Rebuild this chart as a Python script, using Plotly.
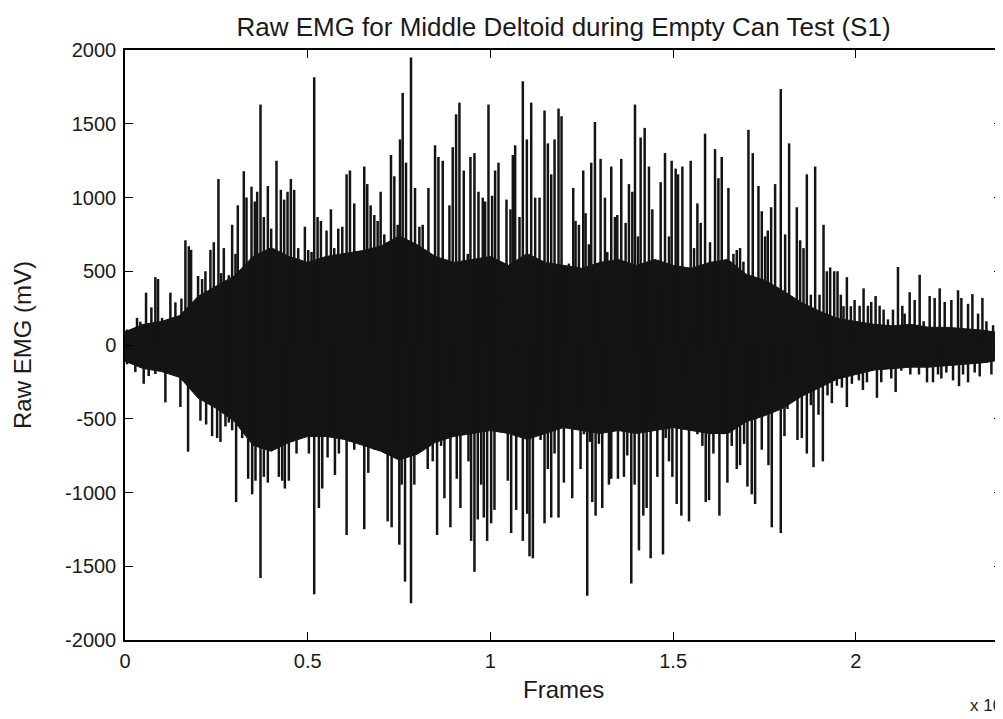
import plotly.graph_objects as go

# ---- data ----
# solid core of the signal (envelope), sampled every 500 frames
core_frames = [0, 500, 1000, 1500, 2000, 2500, 3000, 3500, 4000, 4500, 5000, 5500,
               6000, 6500, 7000, 7500, 8000, 8500, 9000, 9500, 10000, 10500, 11000, 11500,
               12000, 12500, 13000, 13500, 14000, 14500, 15000, 15500, 16000, 16500, 17000,
               17500, 18000, 18500, 19000, 19500, 20000, 20500, 21000, 21500, 22000, 22500,
               23000, 23500, 24000]
core_upper = [90, 140, 160, 200, 330, 400, 470, 600, 660, 600, 560, 600,
              620, 640, 670, 740, 680, 600, 560, 580, 600, 540, 620, 560,
              540, 520, 560, 580, 540, 580, 540, 520, 560, 580, 480,
              440, 370, 290, 230, 180, 160, 140, 130, 140, 120, 120,
              110, 100, 80]
core_lower = [-110, -160, -180, -220, -360, -430, -520, -680, -720, -660, -620, -620,
              -640, -680, -720, -780, -740, -660, -620, -600, -580, -600, -640, -600,
              -560, -580, -600, -580, -600, -580, -560, -580, -600, -600, -520,
              -480, -430, -350, -290, -230, -200, -170, -160, -150, -150, -140,
              -130, -120, -100]

# positive spikes (frame, mV)
pos_frames = [55, 329, 420, 576, 722, 831, 904, 1014, 1242, 1379, 1544, 1653, 1745, 1809, 1909,
              2000, 2110, 2201, 2338, 2430, 2557, 2630, 2704, 2841, 2932, 3023, 3087, 3251, 3325,
              3462, 3553, 3617, 3708, 3800, 3909, 4000,
              4146, 4265, 4356, 4448, 4539, 4630, 4740, 4813, 4923, 5014, 5105, 5178, 5270,
              5361, 5516, 5635, 5726, 5836, 5946, 6064, 6156, 6274, 6384, 6548, 6630, 6722, 6822,
              6914, 6996, 7096, 7188, 7279, 7370, 7462, 7526, 7599, 7690, 7827, 7937,
              8056, 8147, 8303, 8485, 8577, 8695, 8805, 8878, 8969, 9061, 9152, 9271, 9380,
              9453, 9563, 9673, 9791, 9855, 9947, 10047, 10129, 10221, 10321, 10440, 10549, 10613,
              10677, 10796, 10887, 10997, 11116, 11225, 11344, 11481, 11572, 11664, 11755, 11864,
              11946, 12056, 12147, 12266, 12330, 12421, 12540, 12604, 12695, 12759, 12860, 12942,
              13015, 13134, 13198, 13307, 13408, 13472, 13581, 13700, 13791, 13883, 13956, 14038,
              14111, 14221, 14339, 14431, 14522, 14659, 14778, 14887, 14960, 15070, 15134, 15253,
              15390, 15481, 15572, 15664, 15755, 15874,
              16010, 16147, 16239, 16330, 16421, 16513, 16650, 16741, 16832, 16924, 17061, 17179,
              17335, 17426, 17517, 17590, 17682, 17791, 17883, 17946, 18065, 18175, 18275, 18385,
              18476, 18568, 18659, 18769, 18887, 19006, 19116, 19207, 19298, 19408, 19499, 19590,
              19663, 19755, 19864,
              19966, 20103, 20212, 20331, 20422, 20541, 20651, 20760, 20879, 21016, 21153, 21272,
              21336, 21473, 21610, 21747, 21856, 22020, 22157, 22295, 22432, 22614, 22797, 22888,
              23071, 23190, 23345, 23464, 23573, 23756, 23875, 23984]
pos_values = [105, 184, 158, 355, 255, 460, 447, 184, 355, 289, 315, 710, 670, 645, 237,
              468, 447, 500, 645, 697, 1125, 487, 657, 473, 815, 618, 947, 1178, 1000,
              1073, 973, 1039, 1630, 868, 1078, 789,
              1249, 1052, 986, 1039, 1125, 1052, 657, 552, 802, 644, 631, 1815, 868,
              841, 776, 920, 657, 789, 802, 1157, 1183, 960, 539, 1210, 1091, 947, 881,
              841, 1039, 750, 697, 1288, 1144, 815, 1394, 1709, 1236, 1950, 1065,
              802, 815, 1065, 1354, 1275, 1249, 578, 947, 1341, 1564, 1643, 1183, 618,
              1275, 1301, 1039, 999, 973, 1630, 1012, 1183, 1236, 328, 986, 920, 1288,
              1354, 868, 1788, 1394, 1643, 999, 999, 1590, 1367, 1157, 1394, 1603,
              1551, 487, 552, 1065, 841, 815, 1183, 894, 683, 1236, 1512, 447,
              1262, 999, 631, 1210, 868, 881, 1262, 828, 1091, 1039, 1630, 736,
              1407, 1472, 1210, 920, 381, 1104, 1301, 736, 1249, 1196, 1157, 1210,
              131, 1249, 657, 960, 828, 1433,
              697, 1328, 1131, 1275, 447, 1065, 618, 644, 657, 565, 1459, 1301,
              1078, 907, 736, 776, 934, 1091, 341, 1735, 750, 1367, 237, 934,
              710, 657, 1157, 341, 1210, 341, 815, 500, 526, 500, 500, 341,
              263, 460, 263,
              305, 266, 384, 266, 292, 332, 266, 240, 174, 240, 529, 266,
              213, 358, 305, 476, 161, 332, 319, 384, 292, 305, 371, 319,
              279, 345, 213, 319, 161, 134, 398, 95]

# negative spikes (frame, mV)
neg_frames = [55, 283, 512, 649, 831, 1105, 1334, 1516, 1726, 1882, 2064, 2220, 2384, 2521, 2612,
              2749, 2841, 2932, 3041, 3206, 3370, 3480, 3571, 3708, 3800, 3909,
              3964, 4101, 4210, 4302, 4375, 4484, 4576, 4694, 4804, 4904, 5032, 5178, 5306, 5398,
              5544, 5653, 5745, 5854, 6000, 6064, 6156, 6274, 6384, 6548, 6658, 6822, 6978, 7096,
              7188, 7297, 7388, 7507, 7571, 7663, 7827, 7918,
              8010, 8147, 8284, 8421, 8540, 8650, 8741, 8832, 8905, 8997, 9079, 9179, 9289, 9399,
              9472, 9563, 9654, 9746, 9819, 9910, 10020, 10111, 10248, 10339, 10476, 10568, 10705,
              10824, 10887, 11006, 11070, 11162, 11253, 11372, 11481, 11572, 11664, 11755, 11864,
              12010, 12102, 12239, 12330, 12467, 12558, 12650, 12723, 12787, 12878, 12969, 13061,
              13152, 13243, 13307, 13399, 13490, 13581, 13654, 13746, 13855, 13946, 14065, 14184,
              14275, 14385, 14476, 14568, 14723, 14796, 14887, 14979, 15097, 15225, 15316, 15435,
              15572, 15664, 15801, 15892,
              15983, 16102, 16266, 16376, 16485, 16604, 16741, 16832, 16942, 17033, 17152, 17243,
              17335, 17426, 17517, 17609, 17700, 17837, 17946, 18047, 18129, 18202, 18312, 18403,
              18522, 18659, 18769, 18842, 18979, 19097, 19225, 19344, 19481, 19618, 19755, 19892,
              20084, 20194, 20304, 20422, 20578, 20696, 20833, 20970, 21089, 21244, 21381, 21491,
              21610, 21728, 21948, 22112, 22249, 22340, 22477, 22660, 22824, 22934, 23071, 23253,
              23390, 23573, 23710, 23865, 23984]
neg_values = [-131, -184, -263, -210, -197, -389, -184, -420, -723, -263, -513, -539, -618, -631, -657,
              -552, -526, -578, -1065, -631, -907, -1012, -920, -1580, -894, -933,
              -578, -500, -894, -920, -973, -920, -657, -736, -342, -421, -736, -1690, -1105, -973,
              -762, -578, -881, -736, -578, -1288, -657, -710, -210, -1249, -867, -710, -684, -408,
              -1196, -1236, -670, -1354, -947, -1604, -1750, -947,
              -657, -578, -841, -789, -1288, -684, -1039, -592, -1236, -237, -907, -1105, -250, -789,
              -1328, -1538, -1183, -947, -1170, -1328, -1209, -1118, -381, -513, -920, -1275, -1118,
              -329, -1328, -1144, -1433, -1446, -421, -644, -1209, -841, -1170, -736, -1170,
              -933, -184, -1039, -408, -841, -605, -1700, -657, -1065, -1157, -670, -1105,
              -434, -947, -907, -237, -907, -539, -894, -749, -1617, -947, -1393, -1157,
              -1105, -1446, -513, -894, -1420, -631, -789, -894, -1078, -1157, -210, -1196,
              -460, -605, -684, -1065,
              -1052, -736, -1157, -605, -933, -684, -841, -815, -670, -960, -1012, -1078,
              -368, -710, -447, -815, -1236, -289, -1275, -618, -434, -197, -329, -644,
              -631, -736, -408, -828, -473, -789, -342, -394, -276, -289, -421, -263,
              -240, -305, -253, -174, -358, -253, -122, -227, -319, -174, -148, -200,
              -95, -200, -253, -253, -200, -227, -187, -240, -279, -200, -253, -187,
              -213, -122, -200, -240, -148]

x_tick_vals = [0, 5000, 10000, 15000, 20000]
x_tick_text = ["0", "0.5", "1", "1.5", "2"]
y_tick_vals = [-2000, -1500, -1000, -500, 0, 500, 1000, 1500, 2000]
y_tick_text = ["-2000", "-1500", "-1000", "-500", "0", "500", "1000", "1500", "2000"]

INK = "#141414"
TXT = "#1a1a1a"
FONT = "Liberation Sans"
PAGE_OFFSET = 8  # default body margin of the html page

fig = go.Figure()

# solid core
fig.add_trace(go.Scatter(
    x=core_frames + core_frames[::-1],
    y=core_upper + core_lower[::-1],
    fill="toself", fillcolor=INK, mode="lines",
    line=dict(color=INK, width=1), hoverinfo="skip", showlegend=False))

# spikes
sx, sy = [], []
for f, v in zip(pos_frames + neg_frames, pos_values + neg_values):
    sx += [f, f, None]
    sy += [0, v, None]
fig.add_trace(go.Scatter(x=sx, y=sy, mode="lines",
                         line=dict(color=INK, width=2.5),
                         hoverinfo="skip", showlegend=False))

axis_common = dict(showgrid=False, zeroline=False, showline=True, linecolor="#000000",
                   linewidth=1.5, mirror="ticks", ticks="inside", ticklen=8,
                   tickcolor="#000000", tickwidth=1.3, automargin=False,
                   tickfont=dict(family=FONT, size=20, color=TXT))

fig.update_xaxes(range=[0, 24000], tickmode="array", tickvals=x_tick_vals,
                 ticktext=x_tick_text, ticklabelstandoff=2, **axis_common)
fig.update_yaxes(range=[-2000, 2000], tickmode="array", tickvals=y_tick_vals,
                 ticktext=y_tick_text, ticklabelstandoff=3, **axis_common)

W, H = 1003 - PAGE_OFFSET, 719 - PAGE_OFFSET
fig.update_layout(
    width=W, height=H,
    margin=dict(l=125 - PAGE_OFFSET, r=1, t=50 - PAGE_OFFSET, b=79, autoexpand=False),
    paper_bgcolor="white", plot_bgcolor="white",
    title=dict(text="Raw EMG for Middle Deltoid during Empty Can Test (S1)",
               x=0.5, xref="paper", xanchor="center",
               y=1 - (27 - PAGE_OFFSET) / H, yref="container", yanchor="middle",
               font=dict(family=FONT, size=26, color=TXT)),
    annotations=[
        dict(text="Frames", xref="paper", yref="paper", x=0.5, y=(640 - 689) / 590,
             xanchor="center", yanchor="middle", showarrow=False,
             font=dict(family=FONT, size=24, color=TXT)),
        dict(text="Raw EMG (mV)", xref="paper", yref="paper", x=(22 - 125) / 877, y=0.5,
             xanchor="center", yanchor="middle", textangle=-90, showarrow=False,
             font=dict(family=FONT, size=24, color=TXT)),
        dict(text="x 10<sup>4</sup>", xref="paper", yref="paper", x=(968 - 125) / 877,
             y=(640 - 704) / 590, xanchor="left", yanchor="middle", showarrow=False,
             font=dict(family=FONT, size=17, color=TXT)),
    ],
)

fig.write_html("out.html")
